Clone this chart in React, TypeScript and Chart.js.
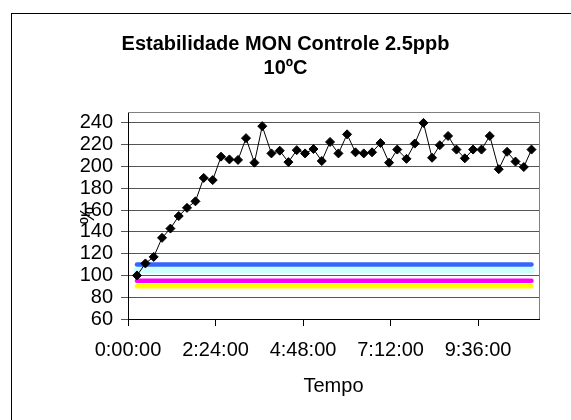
import { useEffect, useRef } from 'react';
import { Chart, registerables } from 'chart.js';

Chart.register(...registerables);

// Sampling times, in hours from the start of the run
const TIME_HOURS = [
  0.247, 0.477, 0.705, 0.933, 1.163, 1.391, 1.618, 1.849, 2.076, 2.323,
  2.551, 2.781, 3.017, 3.236, 3.467, 3.681, 3.933, 4.161, 4.399, 4.627,
  4.855, 5.085, 5.313, 5.54, 5.771, 6.007, 6.237, 6.465, 6.692, 6.923,
  7.159, 7.383, 7.636, 7.863, 8.102, 8.338, 8.549, 8.777, 9.007, 9.235,
  9.462, 9.693, 9.92, 10.167, 10.395, 10.625, 10.853, 11.064,
];

// MON response, % of the initial reading
const MON_PERCENT = [
  100, 111, 117, 134.5, 143, 154.5, 162, 168, 189.5, 187.5,
  209, 206.5, 206, 226, 203.5, 237, 212, 214.5, 204, 215,
  212, 216, 205, 222.5, 212, 229.5, 213, 212, 213, 221.5,
  203.5, 215.5, 207, 221, 240, 208, 219.5, 228, 215.5, 207.5,
  215.5, 215.5, 228, 197.5, 213.5, 204.5, 199.5, 215.5,
];

// Horizontal control levels (%)
const LEVEL_UPPER = 110;
const LEVEL_UPPER_INNER = 105;
const LEVEL_LOWER_INNER = 95;
const LEVEL_LOWER = 90;

const X_TICK_HOURS = [0, 2.4, 4.8, 7.2, 9.6];
const X_TICK_LABELS = ['0:00:00', '2:24:00', '4:48:00', '7:12:00', '9:36:00'];
const X_MAX_HOURS = 11.27;

const Y_TICKS = [60, 80, 100, 120, 140, 160, 180, 200, 220, 240];
const Y_MIN = 60;
const Y_MAX = 250;

const FONT = 'Liberation Sans, Arial, Helvetica, sans-serif';

function levelLine(level: number) {
  const first = TIME_HOURS[0];
  const last = TIME_HOURS[TIME_HOURS.length - 1];
  return [
    { x: first, y: level },
    { x: last, y: level },
  ];
}

const framePlugin = {
  id: 'frame',
  beforeDraw(chart: any) {
    const { ctx, width, height } = chart;
    ctx.save();
    ctx.fillStyle = '#ffffff';
    ctx.fillRect(0, 0, width, height);
    ctx.strokeStyle = '#000000';
    ctx.lineWidth = 1;
    ctx.strokeRect(11.5, 13.5, width, height);
    ctx.restore();
  },
  beforeDatasetsDraw(chart: any) {
    const { ctx, chartArea } = chart;
    const { top, right, bottom } = chartArea;
    ctx.save();
    ctx.strokeStyle = '#808080';
    ctx.lineWidth = 1;
    ctx.beginPath();
    ctx.moveTo(chartArea.left, Math.round(top) + 0.5);
    ctx.lineTo(Math.round(right) + 0.5, Math.round(top) + 0.5);
    ctx.lineTo(Math.round(right) + 0.5, bottom);
    ctx.stroke();
    ctx.restore();
  },
};

export default function App() {
  const canvasRef = useRef<HTMLCanvasElement | null>(null);

  useEffect(() => {
    const canvas = canvasRef.current;
    if (!canvas) return;

    const chart = new Chart(canvas, {
      type: 'line',
      data: {
        datasets: [
          {
            label: 'MON',
            data: TIME_HOURS.map((t, i) => ({ x: t, y: MON_PERCENT[i] })),
            borderColor: '#000000',
            borderWidth: 1,
            pointStyle: 'rectRot',
            pointRadius: 4.5,
            pointBackgroundColor: '#000000',
            pointBorderColor: '#000000',
            pointBorderWidth: 1,
            tension: 0,
          },
          {
            label: '110',
            data: levelLine(LEVEL_UPPER),
            borderColor: '#3366ff',
            borderWidth: 4.5,
            borderCapStyle: 'round',
            pointRadius: 0,
          },
          {
            label: '105',
            data: levelLine(LEVEL_UPPER_INNER),
            borderColor: '#ccffff',
            borderWidth: 6.5,
            borderCapStyle: 'round',
            pointRadius: 0,
          },
          {
            label: '95',
            data: levelLine(LEVEL_LOWER_INNER),
            borderColor: '#ff00ff',
            borderWidth: 4.5,
            borderCapStyle: 'round',
            pointRadius: 0,
          },
          {
            label: '90',
            data: levelLine(LEVEL_LOWER),
            borderColor: '#ffff00',
            borderWidth: 4.5,
            borderCapStyle: 'round',
            pointRadius: 0,
          },
        ],
      },
      options: {
        responsive: false,
        animation: false,
        devicePixelRatio: 1,
        layout: { padding: 0 },
        plugins: {
          legend: { display: false },
          tooltip: { enabled: false },
          title: {
            display: true,
            text: ['Estabilidade MON Controle 2.5ppb', '10ºC'],
            color: '#000000',
            font: { family: FONT, size: 20, weight: 'bold', lineHeight: 1.2 },
            padding: { top: 32, bottom: 32 },
          },
        },
        scales: {
          x: {
            type: 'linear',
            min: 0,
            max: X_MAX_HOURS,
            afterBuildTicks: (scale: any) => {
              scale.ticks = X_TICK_HOURS.map((v) => ({ value: v }));
            },
            afterFit: (scale: any) => {
              scale.height = 101;
            },
            grid: {
              drawOnChartArea: false,
              drawTicks: true,
              tickLength: 7,
              color: '#000000',
            },
            border: { display: true, color: '#000000', width: 1 },
            ticks: {
              color: '#000000',
              font: { family: FONT, size: 20 },
              padding: 12,
              maxRotation: 0,
              autoSkip: false,
              callback: (_v: any, i: number) => X_TICK_LABELS[i],
            },
            title: {
              display: true,
              text: 'Tempo',
              color: '#000000',
              font: { family: FONT, size: 20 },
              padding: { top: 0, bottom: 22 },
            },
          },
          y: {
            type: 'linear',
            min: Y_MIN,
            max: Y_MAX,
            afterBuildTicks: (scale: any) => {
              scale.ticks = Y_TICKS.map((v) => ({ value: v }));
            },
            afterFit: (scale: any) => {
              scale.width = 128;
            },
            grid: {
              color: '#555555',
              drawTicks: true,
              tickLength: 7,
            },
            border: { display: true, color: '#000000', width: 1 },
            ticks: {
              color: '#000000',
              font: { family: FONT, size: 20 },
              padding: 8,
              autoSkip: false,
              callback: (v: any) => String(v),
            },
            title: {
              display: true,
              text: '%',
              color: '#000000',
              font: { family: FONT, size: 20 },
              padding: { top: 76, bottom: 0 },
            },
          },
          yRight: {
            type: 'linear',
            position: 'right',
            display: true,
            afterFit: (scale: any) => {
              scale.width = 32;
            },
            grid: { display: false },
            ticks: { display: false },
            border: { display: false },
          },
        },
      },
      plugins: [framePlugin],
    });

    return () => chart.destroy();
  }, []);

  return (
    <div style={{ position: 'fixed', left: 0, top: 0, width: 571, height: 420 }}>
      <canvas ref={canvasRef} width={571} height={420} />
    </div>
  );
}
